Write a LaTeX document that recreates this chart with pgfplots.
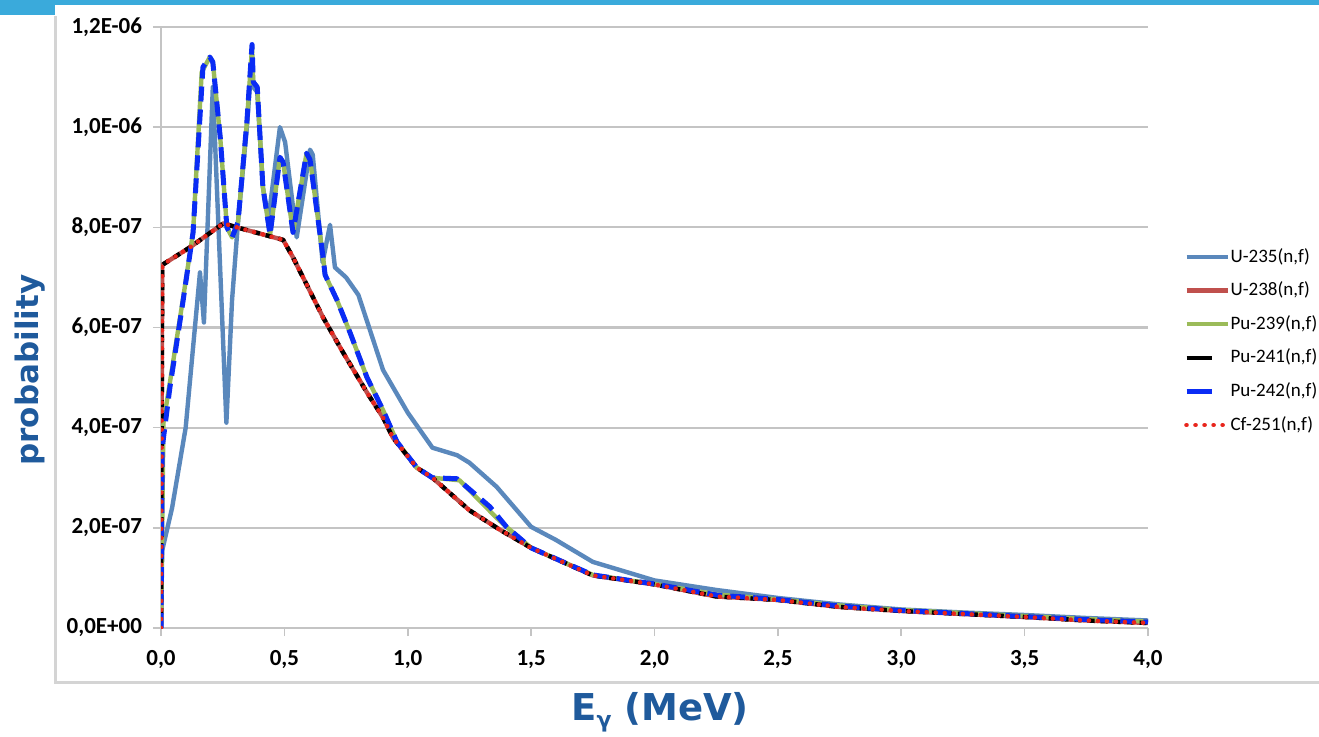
\documentclass[border=0pt]{standalone}
\usepackage{fontspec}
\setmainfont{Carlito}
\newfontfamily\labelfont{DejaVu Sans}
\usepackage{pgfplots}
\usepackage{pgfplotstable}
\pgfplotsset{compat=1.18}

\definecolor{ublue}{HTML}{5A88BC}
\definecolor{ured}{HTML}{C0504D}
\definecolor{pgreen}{HTML}{9BBB59}
\definecolor{pblue}{HTML}{0A2CF5}
\definecolor{cfred}{HTML}{E8251C}
\definecolor{labblue}{HTML}{1F5A9C}
\definecolor{barblue}{HTML}{3AAADB}
\definecolor{gridgray}{HTML}{C4C4C4}
\definecolor{framegray}{HTML}{D4D4D4}

% short solid legend swatch for the dashed series
\pgfplotsset{shortleg/.style={legend image code/.code={%
    \draw[##1, solid] (0pt,0pt) -- (12.5pt,0pt); \path (20.5pt,0pt);}}}

% U-235(n,f)
\pgfplotstableread{
E P
0 0
0.005 1.55e-7
0.045 2.4e-7
0.10 4.0e-7
0.158 7.1e-7
0.174 6.1e-7
0.21 1.08e-6
0.265 4.1e-7
0.288 6.55e-7
0.312 8.1e-7
0.348 1.0e-6
0.369 1.14e-6
0.374 1.08e-6
0.39 1.07e-6
0.413 8.8e-7
0.435 8.15e-7
0.482 1.0e-6
0.503 9.7e-7
0.55 7.8e-7
0.604 9.55e-7
0.615 9.45e-7
0.655 7.3e-7
0.685 8.05e-7
0.705 7.2e-7
0.75 7.0e-7
0.80 6.65e-7
0.90 5.15e-7
1.00 4.3e-7
1.10 3.6e-7
1.20 3.45e-7
1.25 3.3e-7
1.36 2.82e-7
1.50 2.02e-7
1.60 1.76e-7
1.75 1.32e-7
2.00 0.95e-7
2.25 0.76e-7
2.50 0.6e-7
2.75 0.47e-7
3.00 0.37e-7
3.25 0.31e-7
3.50 0.26e-7
3.75 0.2e-7
4.00 0.15e-7
}\tabUa

% U-238, Pu-241, Cf-251 (nearly identical)
\pgfplotstableread{
E P
0 0
0.005 7.25e-7
0.117 7.6e-7
0.253 8.08e-7
0.307 8.0e-7
0.495 7.75e-7
0.535 7.4e-7
0.657 6.2e-7
0.738 5.5e-7
0.835 4.7e-7
0.90 4.2e-7
0.94 3.8e-7
1.037 3.2e-7
1.10 3.0e-7
1.25 2.35e-7
1.374 1.96e-7
1.50 1.6e-7
1.75 1.05e-7
2.0 0.87e-7
2.25 0.63e-7
2.5 0.56e-7
2.75 0.42e-7
3.0 0.34e-7
3.25 0.28e-7
3.5 0.22e-7
3.75 0.15e-7
4.0 0.1e-7
}\tabRed

% Pu-239(n,f)
\pgfplotstableread{
E P
0 0
0.01 4.1e-7
0.036 4.9e-7
0.09 6.6e-7
0.13 7.9e-7
0.165 1.11e-6
0.198 1.14e-6
0.21 1.13e-6
0.24 9.8e-7
0.267 8.0e-7
0.288 7.8e-7
0.312 8.1e-7
0.348 1.01e-6
0.369 1.16e-6
0.374 1.09e-6
0.39 1.08e-6
0.413 8.8e-7
0.442 7.85e-7
0.482 9.4e-7
0.495 9.3e-7
0.535 7.9e-7
0.59 9.48e-7
0.604 9.35e-7
0.657 7.4e-7
0.665 7.05e-7
0.713 6.55e-7
0.766 5.9e-7
0.835 5.0e-7
0.90 4.35e-7
0.956 3.72e-7
1.037 3.2e-7
1.10 3.0e-7
1.21 2.95e-7
1.36 2.2e-7
1.40 2.02e-7
1.50 1.6e-7
1.75 1.06e-7
1.94 0.92e-7
2.0 0.88e-7
2.25 0.67e-7
2.5 0.57e-7
2.75 0.45e-7
3.0 0.36e-7
3.25 0.3e-7
3.5 0.24e-7
3.75 0.18e-7
4.0 0.13e-7
}\tabPuc

% Pu-242(n,f)
\pgfplotstableread{
E P
0 0
0.005 3.6e-7
0.036 4.8e-7
0.09 6.55e-7
0.13 7.9e-7
0.17 1.12e-6
0.198 1.14e-6
0.21 1.13e-6
0.24 9.8e-7
0.267 8.0e-7
0.288 7.8e-7
0.312 8.1e-7
0.348 1.01e-6
0.369 1.165e-6
0.374 1.09e-6
0.39 1.08e-6
0.413 8.8e-7
0.442 7.85e-7
0.482 9.4e-7
0.495 9.3e-7
0.535 7.9e-7
0.59 9.48e-7
0.604 9.35e-7
0.657 7.4e-7
0.665 7.05e-7
0.713 6.55e-7
0.766 5.9e-7
0.835 5.0e-7
0.90 4.35e-7
0.956 3.72e-7
1.037 3.2e-7
1.10 3.0e-7
1.20 2.98e-7
1.333 2.42e-7
1.40 2.02e-7
1.50 1.6e-7
1.75 1.06e-7
1.94 0.92e-7
2.0 0.88e-7
2.25 0.66e-7
2.5 0.57e-7
2.75 0.44e-7
3.0 0.35e-7
3.25 0.29e-7
3.5 0.23e-7
3.75 0.17e-7
4.0 0.12e-7
}\tabPud

\begin{document}
\begin{tikzpicture}
\path[use as bounding box] (0pt,0pt) rectangle (659.5pt,368pt);
% slide decoration and chart frame
\fill[barblue] (0pt,365.5pt) rectangle (659.5pt,368pt);
\fill[barblue] (0pt,360.5pt) rectangle (27.5pt,368pt);
\draw[framegray, line width=1.5pt] (27.5pt,360pt) -- (27.5pt,27pt) -- (659.5pt,27pt);

\begin{axis}[
    at={(80.5pt,54pt)}, anchor=south west,
    scale only axis,
    width=493.5pt, height=300.5pt,
    xmin=0, xmax=4, ymin=0, ymax=1.2e-6,
    scaled y ticks=false,
    axis x line*=bottom, axis y line*=left,
    axis line style={-, draw=gridgray, line width=1pt},
    xtick={0,0.5,1,1.5,2,2.5,3,3.5,4},
    xticklabels={{0,0},{0,5},{1,0},{1,5},{2,0},{2,5},{3,0},{3,5},{4,0}},
    ytick={0,2e-7,4e-7,6e-7,8e-7,1e-6,1.2e-6},
    yticklabels={{0,0E+00},{2,0E-07},{4,0E-07},{6,0E-07},{8,0E-07},{1,0E-06},{1,2E-06}},
    ymajorgrids,
    major grid style={draw=gridgray, line width=1.1pt},
    tick align=outside, major tick length=4pt,
    tick style={draw=gridgray, line width=0.8pt},
    tick label style={font=\bfseries\fontsize{11.5}{11.5}\selectfont, text=black},
    xticklabel style={yshift=-3.5pt},
    yticklabel style={xshift=-2pt},
    xlabel={E\raisebox{-0.35ex}{\fontsize{11}{11}\selectfont γ} (MeV)},
    ylabel={probability},
    label style={font=\labelfont\bfseries, text=labblue},
    xlabel style={font=\labelfont\bfseries\fontsize{18.5}{18.5}\selectfont,
        at={(axis description cs:0.5056,-0.14)}, anchor=center},
    ylabel style={font=\labelfont\bfseries\fontsize{15.5}{15.5}\selectfont,
        at={(axis description cs:-0.1327,0.429)}, anchor=center},
    legend style={draw=none, fill=none, at={(1.030,0.4775)}, anchor=west,
        font=\fontsize{9.5}{9.5}\selectfont, row sep=5.8pt,
        nodes={inner ysep=1pt, inner xsep=0.3pt, text height=7pt, text depth=2pt}},
    legend cell align=left,
    legend image code/.code={\draw[#1] (0pt,0pt) -- (20.5pt,0pt);},
    every axis plot/.append style={line join=round},
]
\addplot[ublue, line width=2.2pt] table[x=E,y=P] {\tabUa};
\addlegendentry{U-235(n,f)}
\addplot[ured, line width=2.2pt] table[x=E,y=P] {\tabRed};
\addlegendentry{U-238(n,f)}
\addplot[pgreen, line width=2.2pt] table[x=E,y=P] {\tabPuc};
\addlegendentry{Pu-239(n,f)}
\addplot[black, line width=2.2pt, dash pattern=on 3.5pt off 3pt, shortleg] table[x=E,y=P] {\tabRed};
\addlegendentry{Pu-241(n,f)}
\addplot[pblue, line width=2.5pt, dash pattern=on 7.5pt off 4pt, shortleg] table[x=E,y=P] {\tabPud};
\addlegendentry{Pu-242(n,f)}
\addplot[cfred, line width=2.3pt, line cap=round, dash pattern=on 0.01pt off 4.5pt] table[x=E,y=P] {\tabRed};
\addlegendentry{Cf-251(n,f)}
\end{axis}
\end{tikzpicture}
\end{document}
